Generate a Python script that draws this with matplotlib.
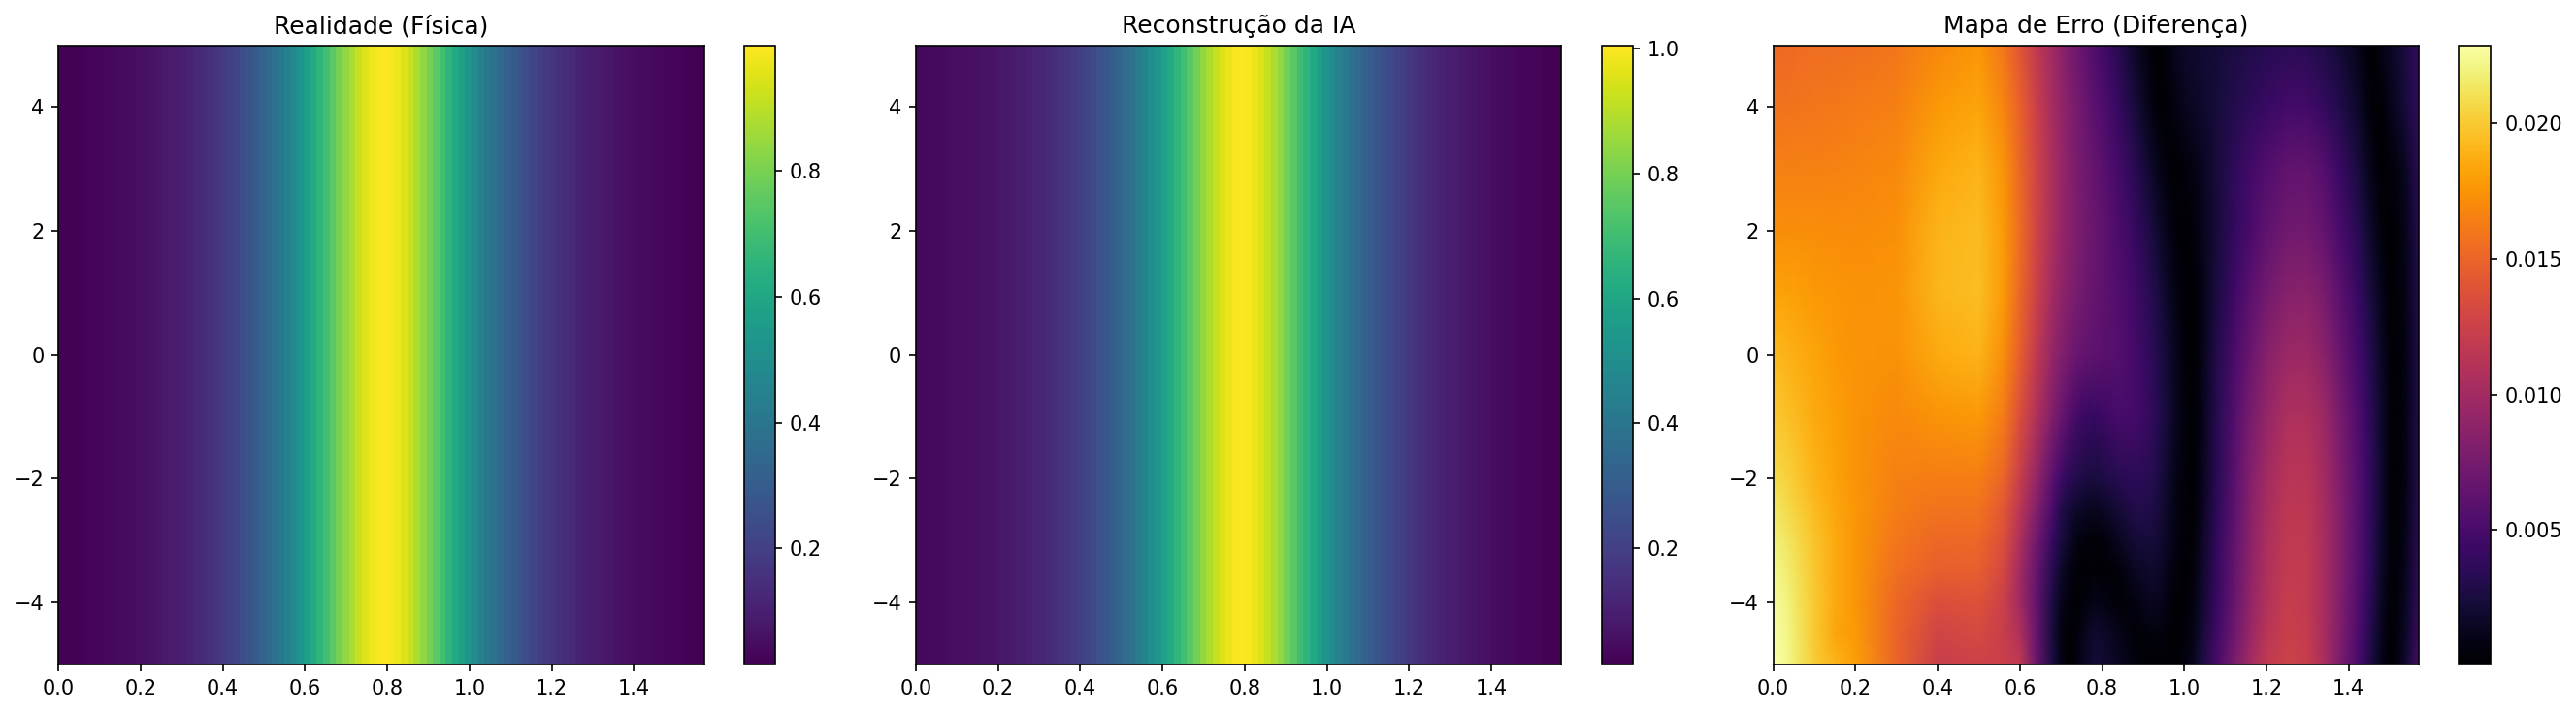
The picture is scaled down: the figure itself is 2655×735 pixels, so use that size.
"""Three heatmaps: physics solution, network reconstruction and absolute error."""

import matplotlib

matplotlib.use("Agg")
import matplotlib.pyplot as plt
import numpy as np

X_MAX = 1.5708

# Realidade (Fisica): one value per column, the field does not change with y
real_profile = [
    .018, .019, .021, .023, .026, .028, .031, .034, .037, .041,
    .045, .049, .054, .060, .065, .072, .079, .087, .095, .104,
    .115, .126, .138, .151, .166, .182, .199, .218, .240, .264,
    .289, .316, .346, .377, .411, .446, .484, .526, .568, .611,
    .657, .702, .746, .792, .837, .879, .916, .948, .973, .990,
    .999, .990, .973, .948, .916, .879, .837, .792, .746, .702,
    .657, .611, .568, .526, .484, .446, .411, .377, .346, .316,
    .289, .264, .240, .218, .199, .182, .166, .151, .138, .126,
    .115, .104, .095, .087, .079, .072, .065, .060, .054, .049,
    .045, .041, .037, .034, .031, .028, .026, .023, .020, .016,
]

# Reconstrucao da IA
pred_profile = [
    .036, .036, .038, .040, .043, .045, .048, .051, .054, .058,
    .062, .066, .071, .077, .082, .089, .096, .104, .112, .121,
    .132, .143, .155, .168, .183, .199, .216, .235, .256, .280,
    .305, .331, .360, .391, .424, .459, .497, .536, .576, .617,
    .661, .704, .747, .796, .841, .884, .921, .953, .978, .996,
    1.006, .996, .977, .952, .920, .882, .840, .794, .748, .703,
    .657, .611, .569, .528, .488, .452, .418, .385, .355, .326,
    .299, .274, .250, .227, .207, .189, .172, .156, .142, .129,
    .117, .106, .096, .087, .079, .071, .064, .058, .052, .047,
    .042, .038, .034, .031, .028, .025, .022, .019, .016, .013,
]

# Mapa de Erro: values read along rows of the picture
err_x = [
    0, .03, .06, .1, .15, .2, .3, .4, .5, .56, .6, .64, .68, .7, .72, .74,
    .76, .78, .8, .84, .88, .92, .94, .96, .98, 1.0, 1.02, 1.04, 1.08, 1.12,
    1.16, 1.2, 1.25, 1.3, 1.34, 1.38, 1.42, 1.44, 1.46, 1.48, 1.5, 1.52,
    1.54, X_MAX,
]
err_y = [5, 4, 3, 2, 1, 0, -1, -2, -2.5, -3, -3.5, -4, -4.5, -5]
err_rows = [
    [.0153, .0153, .0154, .0155, .0155, .0156, .0160, .0170, .0176, .0160, .0140, .0118, .0098, .0088, .0078, .0070, .0062, .0054, .0047, .0033, .0016, .0003, .0001, .0006, .0013, .0017, .0019, .0020, .0023, .0026, .0029, .0032, .0035, .0033, .0028, .0021, .0012, .0004, .0002, .0010, .0014, .0020, .0026, .0042],
    [.0158, .0158, .0159, .0160, .0161, .0162, .0165, .0178, .0183, .0168, .0148, .0124, .0102, .0092, .0083, .0075, .0068, .0060, .0054, .0040, .0024, .0008, .0002, .0003, .0008, .0012, .0015, .0018, .0024, .0030, .0036, .0042, .0047, .0046, .0039, .0029, .0018, .0010, .0002, .0002, .0011, .0017, .0024, .0040],
    [.0165, .0165, .0165, .0165, .0166, .0167, .0170, .0185, .0190, .0175, .0152, .0128, .0104, .0094, .0085, .0077, .0071, .0065, .0060, .0048, .0033, .0018, .0010, .0004, .0001, .0004, .0008, .0012, .0024, .0036, .0046, .0055, .0063, .0064, .0056, .0042, .0026, .0017, .0008, .0001, .0003, .0008, .0015, .0036],
    [.0172, .0172, .0172, .0172, .0171, .0171, .0173, .0190, .0194, .0178, .0154, .0128, .0104, .0094, .0086, .0079, .0073, .0068, .0063, .0052, .0040, .0026, .0018, .0011, .0004, .0001, .0004, .0010, .0024, .0038, .0050, .0062, .0071, .0072, .0064, .0050, .0034, .0024, .0014, .0005, .0001, .0005, .0012, .0032],
    [.0182, .0181, .0180, .0178, .0176, .0174, .0175, .0191, .0195, .0178, .0152, .0125, .0100, .0090, .0082, .0076, .0070, .0066, .0062, .0055, .0045, .0032, .0024, .0016, .0009, .0002, .0002, .0008, .0026, .0044, .0060, .0073, .0084, .0086, .0076, .0060, .0042, .0032, .0021, .0011, .0002, .0003, .0011, .0030],
    [.0192, .0190, .0187, .0183, .0178, .0175, .0174, .0186, .0190, .0172, .0146, .0118, .0092, .0082, .0074, .0068, .0064, .0062, .0060, .0056, .0048, .0036, .0028, .0020, .0012, .0004, .0001, .0008, .0030, .0050, .0068, .0084, .0095, .0096, .0086, .0068, .0048, .0038, .0027, .0015, .0004, .0002, .0010, .0030],
    [.0200, .0196, .0192, .0186, .0180, .0175, .0170, .0175, .0178, .0162, .0136, .0108, .0080, .0068, .0056, .0047, .0042, .0040, .0043, .0049, .0048, .0038, .0030, .0022, .0013, .0005, .0001, .0009, .0032, .0054, .0076, .0092, .0106, .0106, .0096, .0076, .0054, .0043, .0031, .0018, .0005, .0002, .0010, .0030],
    [.0208, .0204, .0198, .0190, .0182, .0175, .0165, .0163, .0164, .0150, .0122, .0092, .0060, .0045, .0034, .0030, .0026, .0025, .0027, .0032, .0036, .0032, .0026, .0018, .0010, .0004, .0001, .0010, .0034, .0058, .0082, .0100, .0113, .0113, .0100, .0080, .0058, .0046, .0033, .0018, .0005, .0002, .0010, .0032],
    [.0214, .0209, .0203, .0194, .0184, .0176, .0163, .0158, .0158, .0142, .0114, .0082, .0050, .0030, .0022, .0017, .0014, .0013, .0015, .0022, .0029, .0028, .0023, .0016, .0009, .0003, .0002, .0011, .0036, .0060, .0084, .0103, .0116, .0115, .0102, .0082, .0058, .0046, .0033, .0018, .0005, .0002, .0011, .0034],
    [.0219, .0214, .0207, .0197, .0186, .0176, .0160, .0152, .0152, .0136, .0106, .0072, .0040, .0026, .0016, .0008, .0004, .0003, .0004, .0013, .0022, .0024, .0020, .0014, .0008, .0002, .0003, .0013, .0038, .0062, .0086, .0105, .0118, .0117, .0103, .0082, .0058, .0046, .0032, .0017, .0005, .0003, .0012, .0036],
    [.0223, .0218, .0210, .0199, .0186, .0176, .0156, .0146, .0146, .0130, .0100, .0066, .0032, .0018, .0009, .0003, .0002, .0003, .0002, .0003, .0014, .0019, .0017, .0011, .0005, .0001, .0005, .0015, .0040, .0064, .0088, .0107, .0120, .0118, .0103, .0082, .0058, .0045, .0031, .0016, .0005, .0004, .0013, .0038],
    [.0226, .0221, .0212, .0200, .0186, .0176, .0152, .0136, .0138, .0124, .0100, .0064, .0026, .0012, .0005, .0001, .0006, .0010, .0009, .0003, .0007, .0013, .0012, .0007, .0002, .0002, .0007, .0017, .0042, .0066, .0090, .0109, .0121, .0119, .0103, .0081, .0056, .0043, .0029, .0014, .0003, .0005, .0015, .0040],
    [.0228, .0223, .0213, .0200, .0184, .0178, .0150, .0128, .0132, .0122, .0108, .0066, .0024, .0008, .0002, .0006, .0013, .0019, .0018, .0011, .0003, .0005, .0006, .0003, .0001, .0004, .0009, .0020, .0045, .0070, .0094, .0113, .0123, .0120, .0103, .0080, .0054, .0041, .0026, .0012, .0002, .0006, .0017, .0044],
    [.0229, .0224, .0214, .0202, .0190, .0180, .0150, .0122, .0126, .0124, .0118, .0068, .0026, .0010, .0001, .0007, .0016, .0021, .0021, .0014, .0005, .0001, .0002, .0002, .0002, .0006, .0012, .0024, .0050, .0076, .0100, .0118, .0126, .0122, .0104, .0078, .0052, .0038, .0023, .0010, .0001, .0008, .0020, .0050],
]

titles = ["Realidade (Física)", "Reconstrução da IA", "Mapa de Erro (Diferença)"]
y_ticks = [-4, -2, 0, 2, 4]
x_ticks = [0.0, 0.2, 0.4, 0.6, 0.8, 1.0, 1.2, 1.4]

W, H = 2655, 735
ax_left = [60.2, 943.9, 1827.6]
ax_w = 665.5
cax_gap = 41.2
cax_w = 32.5
ax_top = 46.5
ax_bottom = 685


def _axes_box(left, width):
    return [left / W, 1 - ax_bottom / H, width / W, (ax_bottom - ax_top) / H]


def _profile_panel(ax, profile, cmap):
    edges = np.linspace(0, X_MAX, len(profile) + 1)
    vals = np.array(profile)[np.newaxis, :]
    return ax.pcolormesh(edges, [-5, 5], vals, cmap=cmap, shading="flat")


fig = plt.figure(figsize=(W / 150, H / 150), dpi=150)
axes = [fig.add_axes(_axes_box(left, ax_w)) for left in ax_left]

meshes = [
    _profile_panel(axes[0], real_profile, "viridis"),
    _profile_panel(axes[1], pred_profile, "viridis"),
    axes[2].pcolormesh(
        np.array(err_x), np.array(err_y), np.array(err_rows),
        cmap="inferno", shading="gouraud", vmin=0.00003, vmax=0.0229,
    ),
]

for ax, mesh, title, left in zip(axes, meshes, titles, ax_left):
    ax.set_title(title)
    ax.set_xlim(0, X_MAX)
    ax.set_ylim(-5, 5)
    ax.set_xticks(x_ticks)
    ax.set_yticks(y_ticks)
    cax = fig.add_axes(_axes_box(left + ax_w + cax_gap, cax_w))
    fig.colorbar(mesh, cax=cax)

fig.savefig("out.png", dpi=150)
